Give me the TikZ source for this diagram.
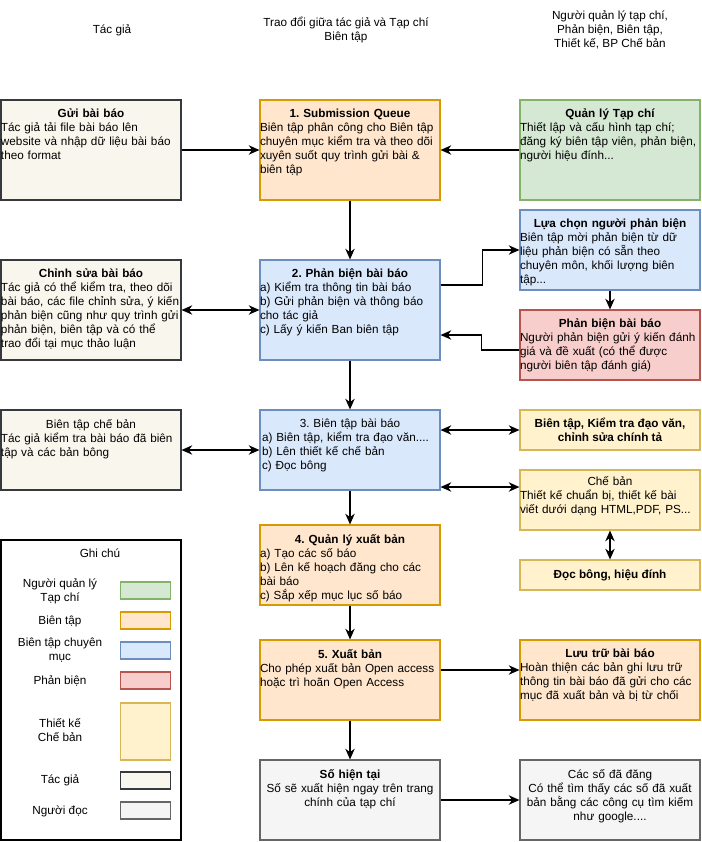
\documentclass[tikz,border=0pt]{standalone}
\usepackage{fontspec}
\setmainfont{Liberation Sans}
\usetikzlibrary{arrows.meta}
\frenchspacing
\definecolor{grfill}{HTML}{D5E8D4}\definecolor{grline}{HTML}{82B366}
\definecolor{orfill}{HTML}{FFE6CC}\definecolor{orline}{HTML}{D79B00}
\definecolor{blfill}{HTML}{DAE8FC}\definecolor{blline}{HTML}{6C8EBF}
\definecolor{rdfill}{HTML}{F8CECC}\definecolor{rdline}{HTML}{B85450}
\definecolor{yefill}{HTML}{FFF2CC}\definecolor{yeline}{HTML}{D6B656}
\definecolor{tgfill}{HTML}{F9F7ED}\definecolor{tgline}{HTML}{36393D}
\definecolor{dcfill}{HTML}{F5F5F5}\definecolor{dcline}{HTML}{666666}
\tikzset{
  card/.style={draw=#1line,fill=#1fill,line width=0.8pt,minimum width=135pt,inner sep=0pt},
  swatch/.style={draw=#1line,fill=#1fill,line width=0.8pt,minimum width=38pt,minimum height=12.75pt,inner sep=0pt},
  txt/.style={anchor=north,yshift=-6.5pt,text width=135pt,inner sep=0.5pt,align=left,font=\fontsize{8.8}{10.5}\selectfont},
  plain/.style={inner sep=0pt,align=center,font=\fontsize{8.8}{10.5}\selectfont},
  tip/.tip={Stealth[length=8pt,width=7pt,inset=2.5pt]},
  link/.style={line width=1.3pt,-tip},
  both/.style={line width=1.3pt,tip-tip}
}
\begin{document}
\begin{tikzpicture}[x=0.75pt,y=-0.75pt]
\useasboundingbox (0,0) rectangle (702,842);
% column headers
\node[plain] (hdtg) at (112,30) {Tác giả};
\node[plain] (hdtd) at (346,30) {Trao đổi giữa tác giả và Tạp chí\\Biên tập};
\node[plain] (hdql) at (610,30) {Người quản lý tạp chí,\\Phản biện, Biên tập,\\Thiết kế, BP Chế bản};
% author column
\node[card=tg,minimum height=75pt] (gui) at (91,150) {};
\node[txt] (guit) at (gui.north) {{\centering\bfseries Gửi bài báo\par}Tác giả tải file bài báo lên\\website và nhập dữ liệu bài báo\\theo format};
\node[card=tg,minimum height=75pt] (cs) at (91,310) {};
\node[txt] (cst) at (cs.north) {{\centering\bfseries Chỉnh sửa bài báo\par}Tác giả có thể kiểm tra, theo dõi\\bài báo, các file chỉnh sửa, ý kiến\\phản biện cũng như quy trình gửi\\phản biện, biên tập và có thể\\trao đổi tại mục thảo luận};
\node[card=tg,minimum height=60pt] (btcb) at (91,450) {};
\node[txt] (btcbt) at (btcb.north) {{\centering Biên tập chế bản\par}Tác giả kiểm tra bài báo đã biên\\tập và các bản bông};
% middle column
\node[card=or,minimum height=75pt] (sq) at (350,150) {};
\node[txt] (sqt) at (sq.north) {{\centering\bfseries 1. Submission Queue\par}Biên tập phân công cho Biên tập\\chuyên mục kiểm tra và theo dõi\\xuyên suốt quy trình gửi bài \&\\biên tập};
\node[card=bl,minimum height=75pt] (pb2) at (350,310) {};
\node[txt] (pb2t) at (pb2.north) {{\centering\bfseries 2. Phản biện bài báo\par}a) Kiểm tra thông tin bài báo\\b) Gửi phản biện và thông báo\\cho tác giả\\c) Lấy ý kiến Ban biên tập};
\node[card=bl,minimum height=60pt] (bt3) at (350,450) {};
\node[txt] (bt3t) at (bt3.north) {{\centering 3. Biên tập bài báo\par}\hspace{1.5pt}a) Biên tập, kiểm tra đạo văn....\\\hspace*{1.5pt}b) Lên thiết kế chế bản\\\hspace*{1.5pt}c) Đọc bông};
\node[card=or,minimum height=60pt] (qlxb) at (350,565) {};
\node[txt] (qlxbt) at (qlxb.north) {{\centering\bfseries 4. Quản lý xuất bản\par}a) Tạo các số báo\\b) Lên kế hoạch đăng cho các\\bài báo\\c) Sắp xếp mục lục số báo};
\node[card=or,minimum height=60pt] (xb) at (350,680) {};
\node[txt] (xbt) at (xb.north) {{\centering\bfseries 5. Xuất bản\par}Cho phép xuất bản Open access\\hoặc trì hoãn Open Access};
\node[card=dc,minimum height=60pt] (sht) at (350,800) {};
\node[txt,align=center] (shtt) at (sht.north) {\textbf{Số hiện tại}\\Số sẽ xuất hiện ngay trên trang\\chính của tạp chí};
% right column
\node[card=gr,minimum height=75pt] (ql) at (610,150) {};
\node[txt] (qlt) at (ql.north) {{\centering\bfseries Quản lý Tạp chí\par}Thiết lập và cấu hình tạp chí;\\đăng ký biên tập viên, phản biện,\\người hiệu đính...};
\node[card=bl,minimum height=60pt] (lc) at (610,250) {};
\node[txt] (lct) at (lc.north) {{\centering\bfseries Lựa chọn người phản biện\par}Biên tập mời phản biện từ dữ\\liệu phản biện có sẵn theo\\chuyên môn, khối lượng biên\\tập...};
\node[card=rd,minimum height=52.5pt] (pb) at (610,345) {};
\node[txt] (pbt) at (pb.north) {{\centering\bfseries Phản biện bài báo\par}Người phản biện gửi ý kiến đánh\\giá và đề xuất (có thể được\\người biên tập đánh giá)};
\node[card=ye,minimum height=30pt,plain,font=\fontsize{8.8}{10.5}\selectfont\bfseries] (ktdv) at (610,430) {Biên tập, Kiểm tra đạo văn,\\chỉnh sửa chính tả};
\node[card=ye,minimum height=45pt] (cb) at (610,500) {};
\node[txt,yshift=2pt] (cbt) at (cb.north) {{\centering Chế bản\par}Thiết kế chuẩn bị, thiết kế bài\\viết dưới dạng HTML,PDF, PS...};
\node[card=ye,minimum height=22.5pt,plain,font=\fontsize{8.8}{10.5}\selectfont\bfseries] (db) at (610,575) {Đọc bông, hiệu đính};
\node[card=or,minimum height=60pt] (lt) at (610,680) {};
\node[txt] (ltt) at (lt.north) {{\centering\bfseries Lưu trữ bài báo\par}Hoàn thiện các bản ghi lưu trữ\\thông tin bài báo đã gửi cho các\\mục đã xuất bản và bị từ chối};
\node[card=dc,minimum height=60pt] (csdd) at (610,800) {};
\node[txt,align=center] (csddt) at (csdd.north) {Các số đã đăng\\Có thể tìm thấy các số đã xuất\\bản bằng các công cụ tìm kiếm\\như google....};
% legend
\node[draw,fill=white,line width=0.8pt,minimum width=135pt,minimum height=225pt] (gc) at (91,690) {};
\node[plain] (gct) at (100,553) {Ghi chú};
\node[plain] (lg1) at (60,591) {Người quản lý\\Tạp chí};
\node[swatch=gr] (sw1) at (145.5,590.5) {};
\node[plain] (lg2) at (60,621) {Biên tập};
\node[swatch=or] (sw2) at (145.5,620.5) {};
\node[plain] (lg3) at (60,650) {Biên tập chuyên\\mục};
\node[swatch=bl] (sw3) at (145.5,650.5) {};
\node[plain] (lg4) at (60,681) {Phản biện};
\node[swatch=rd] (sw4) at (145.5,680.5) {};
\node[plain] (lg5) at (60,730) {Thiết kế\\Chế bản};
\node[swatch=ye,minimum height=42.75pt] (sw5) at (145.5,731.5) {};
\node[plain] (lg6) at (60,780) {Tác giả};
\node[swatch=tg] (sw6) at (145.5,780.5) {};
\node[plain] (lg7) at (60,811) {Người đọc};
\node[swatch=dc] (sw7) at (145.5,810.5) {};
% connectors
\draw[link] (gui) -- (sq);
\draw[link] (ql) -- (sq);
\draw[link] (sq) -- (pb2);
\draw[link] ([yshift=18.75pt]pb2.east) -- ++(42,0) |- (lc.west);
\draw[link] (lc) -- (pb);
\draw[link] ([yshift=-3.75pt]pb.west) -- ++(-38,0) |- ([yshift=-18.75pt]pb2.east);
\draw[both] (cs) -- (pb2);
\draw[link] (pb2) -- (bt3);
\draw[both] (btcb) -- (bt3);
\draw[both] (bt3.east |- ktdv.west) -- (ktdv.west);
\coordinate (cbin) at ([yshift=-27.75pt]bt3.east);
\draw[both] (cbin) -- (cbin -| cb.west);
\draw[both] (cb) -- (db);
\draw[link] (bt3) -- (qlxb);
\draw[link] (qlxb) -- (xb);
\draw[link] ([yshift=7.5pt]xb.east) -- ([yshift=7.5pt]lt.west);
\draw[link] (xb) -- (sht);
\draw[link] (sht) -- (csdd);
\end{tikzpicture}
\end{document}
